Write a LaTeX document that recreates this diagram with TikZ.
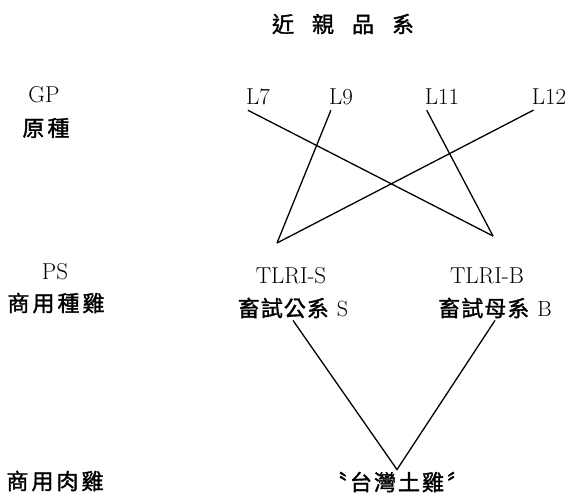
\documentclass[tikz,border=0pt]{standalone}
\usepackage{fontspec}
\newfontfamily\cjk[FakeBold=1.5]{Noto Sans CJK TC}
\usepackage{tikz}
\usetikzlibrary{calc}

\begin{document}
\begin{tikzpicture}[x=1pt, y=-1pt,
	lat/.style={font=\fontsize{23}{23}\selectfont, inner sep=2pt},
	zh/.style={font=\fontsize{22}{22}\selectfont\cjk, inner sep=2pt},
	ln/.style={line width=1.3pt}]
	\useasboundingbox (0,0) rectangle (568,493);
	\node[zh] (title) at (343,24) {近\hspace{18pt}親\hspace{18pt}品\hspace{18pt}系};
	% left column
	\node[lat] (gp) at (44,95) {GP};
	\node[zh] (gpname) at (46,128) {原\hspace{3pt}種};
	\node[lat] (ps) at (55,272) {PS};
	\node[zh] (psname) at (56,303) {商\hspace{3pt}用\hspace{3pt}種\hspace{3pt}雞};
	\node[zh] (broiler) at (55,481) {商\hspace{3pt}用\hspace{3pt}肉\hspace{3pt}雞};
	% lines
	\foreach \n/\x in {7/258, 9/341, 11/442, 12/549}
		\node[lat] (l\n) at (\x,97) {L\n};
	\coordinate (sapex) at (277,243);
	\coordinate (bapex) at (493,236);
	\foreach \a/\b in {l7/bapex, l9/sapex, l11/bapex, l12/sapex}
		\draw[ln] ($(\a.south west)+(4,3)$) -- (\b);
	\node[lat] (tlris) at (291,276) {TLRI-S};
	\node[lat] (tlrib) at (487,276) {TLRI-B};
	\node[zh] (gs) at (293,308) {畜\hspace{1pt}試\hspace{1pt}公\hspace{1pt}系\hspace{8pt}{\rmfamily S}};
	\node[zh] (gb) at (495,308) {畜\hspace{1pt}試\hspace{1pt}母\hspace{1pt}系\hspace{8pt}{\rmfamily B}};
	\node[zh] (tw) at (397,482) {〝\hspace{3pt}台\hspace{2pt}灣\hspace{2pt}土\hspace{2pt}雞\hspace{3pt}〞};
	\draw[ln] (gs.south) -- (tw.north) -- (gb.south);
\end{tikzpicture}
\end{document}
